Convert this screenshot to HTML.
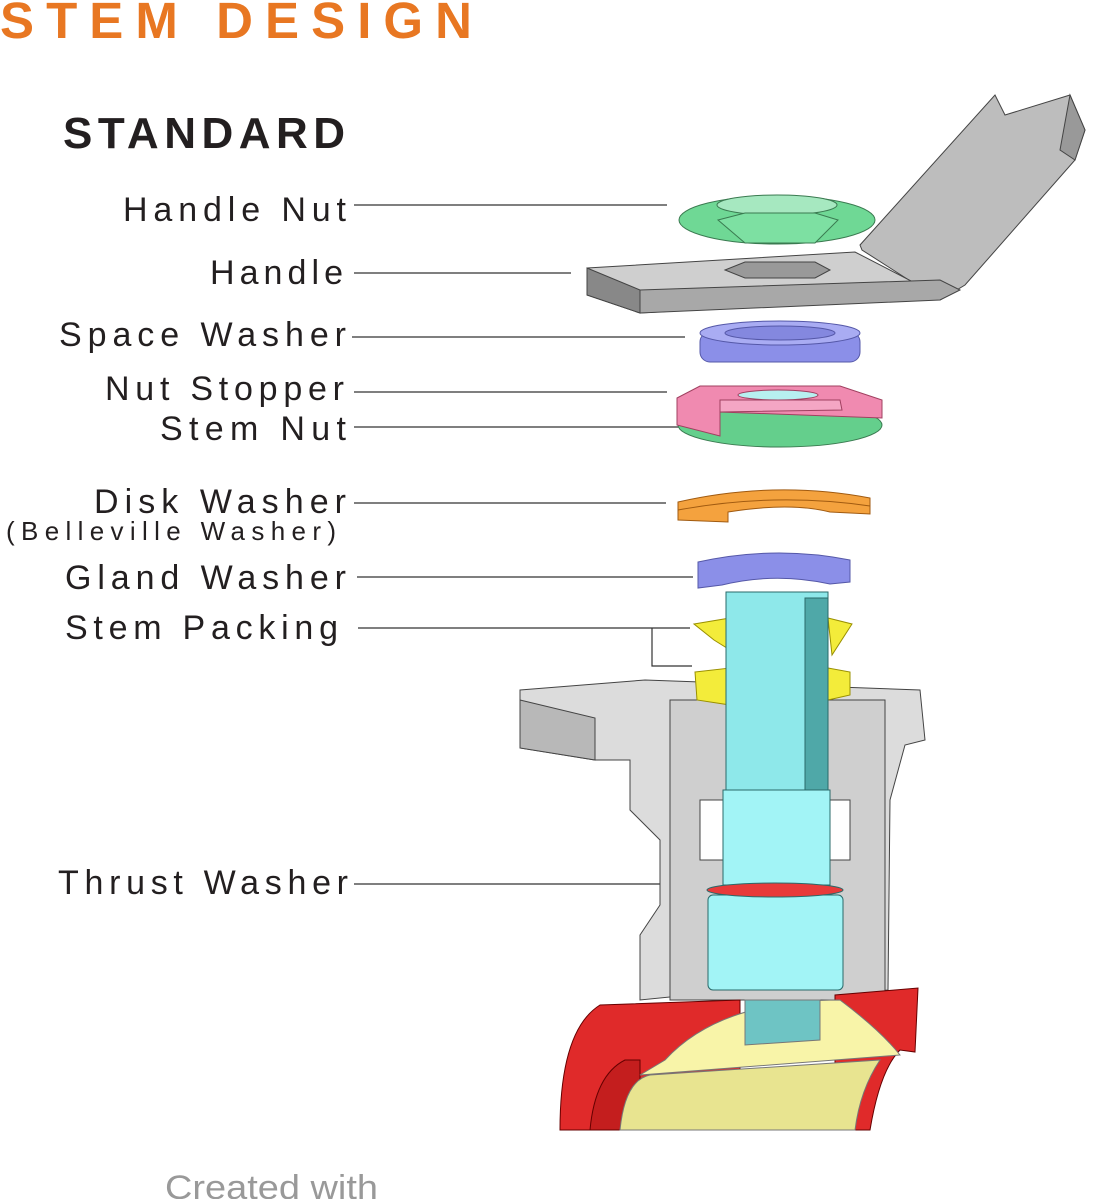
<!DOCTYPE html>
<html><head><meta charset="utf-8"><style>
html,body{margin:0;padding:0;background:#fff;}
svg{display:block;}
text{font-family:"Liberation Sans",Arial,sans-serif;}
</style></head><body>
<svg width="1109" height="1199" viewBox="0 0 1109 1199" xmlns="http://www.w3.org/2000/svg">
<rect width="1109" height="1199" fill="#fff"/>
<text x="0" y="38" font-size="51" font-weight="bold" fill="#e87722" textLength="472" lengthAdjust="spacing">STEM DESIGN</text>
<text x="63" y="148" font-size="44" font-weight="bold" fill="#231f20" textLength="282" lengthAdjust="spacing">STANDARD</text>
<g font-size="34" fill="#231f20">
<text x="123" y="221" textLength="223" lengthAdjust="spacing">Handle Nut</text>
<text x="210" y="284" textLength="133" lengthAdjust="spacing">Handle</text>
<text x="59" y="346" textLength="287" lengthAdjust="spacing">Space Washer</text>
<text x="105" y="400" textLength="239" lengthAdjust="spacing">Nut Stopper</text>
<text x="160" y="440" textLength="186" lengthAdjust="spacing">Stem Nut</text>
<text x="94" y="513" textLength="252" lengthAdjust="spacing">Disk Washer</text>
<text x="6" y="540" font-size="26" textLength="330" lengthAdjust="spacing">(Belleville Washer)</text>
<text x="65" y="589" textLength="281" lengthAdjust="spacing">Gland Washer</text>
<text x="65" y="639" textLength="273" lengthAdjust="spacing">Stem Packing</text>
<text x="58" y="894" textLength="290" lengthAdjust="spacing">Thrust Washer</text>
</g>
<g stroke="#333" stroke-width="1.2" fill="none">
<line x1="354" y1="205" x2="667" y2="205"/>
<line x1="354" y1="273" x2="571" y2="273"/>
<line x1="352" y1="337" x2="685" y2="337"/>
<line x1="354" y1="392" x2="667" y2="392"/>
<line x1="354" y1="427" x2="680" y2="427"/>
<line x1="354" y1="503" x2="666" y2="503"/>
<line x1="357" y1="577" x2="693" y2="577"/>
<polyline points="358,628 690,628"/>
<polyline points="652,628 652,666 692,666"/>
<line x1="354" y1="884" x2="705" y2="884"/>
</g>
<g stroke="#444" stroke-width="1">
<polygon points="860,245 995,95 1005,115 1070,95 1085,130 1075,160 965,285 940,300 862,250" fill="#bdbdbd"/>
<polygon points="1070,95 1085,130 1075,160 1060,150" fill="#999"/>
<polygon points="587,268 855,252 940,296 640,313 587,295" fill="#cfcfcf"/>
<polygon points="587,268 640,290 640,313 587,295" fill="#888"/>
<polygon points="640,290 940,280 960,290 940,300 640,313" fill="#a8a8a8"/>
<polygon points="725,270 745,262 815,262 830,270 815,278 745,278" fill="#999"/>
</g>
<g stroke="#3a7a50" stroke-width="1">
<ellipse cx="777" cy="220" rx="98" ry="24" fill="#6fd895"/>
<ellipse cx="777" cy="205" rx="60" ry="10" fill="#a6e8c0"/>
<polygon points="718,220 745,243 815,243 838,220 815,213 745,213" fill="#7de0a2"/>
</g>
<g stroke="#5558a8" stroke-width="1">
<rect x="700" y="332" width="160" height="30" rx="10" fill="#8b8fe8"/>
<ellipse cx="780" cy="333" rx="80" ry="12" fill="#a9acf3"/>
<ellipse cx="780" cy="333" rx="55" ry="7" fill="#8488df"/>
</g>
<g stroke="#3a7a50" stroke-width="1">
<ellipse cx="780" cy="425" rx="102" ry="22" fill="#64cf8c"/>
</g>
<g stroke="#a04060" stroke-width="1">
<polygon points="677,398 700,386 840,386 882,400 882,418 720,412 720,436 677,425" fill="#f08ab0"/>
<polygon points="720,400 840,400 842,410 720,412" fill="#f4a6c4"/>
<ellipse cx="778" cy="395" rx="40" ry="5" fill="#b7f0f0"/>
</g>
<g stroke="#a05a10" stroke-width="1">
<path d="M678,502 Q775,480 870,498 L870,514 L830,512 Q790,502 728,512 L728,522 L678,520 Z" fill="#f4a23e"/>
<path d="M678,510 Q775,492 870,506" fill="none"/>
</g>
<g stroke="#5558a8" stroke-width="1">
<path d="M698,562 Q775,545 850,560 L850,582 L830,584 Q775,572 722,585 L698,588 Z" fill="#8b8fe8"/>
</g>
<g stroke="#444" stroke-width="1">
<polygon points="520,690 645,680 920,690 925,740 905,745 890,800 888,990 835,995 690,995 640,1000 640,935 660,905 660,840 630,810 630,760 595,760 520,748" fill="#dcdcdc"/>
<polygon points="520,700 595,718 595,760 520,748" fill="#b8b8b8"/>
<rect x="670" y="700" width="215" height="300" fill="#cfcfcf"/>
<rect x="700" y="800" width="150" height="60" fill="#fff"/>
</g>
<g stroke="#9a9000" stroke-width="1">
<polygon points="694,624 730,618 730,650 714,640" fill="#f3ec3a"/>
<polygon points="828,618 852,624 832,655" fill="#f3ec3a"/>
<polygon points="695,672 730,668 730,705 697,700" fill="#f3ec3a"/>
<polygon points="828,668 850,672 850,695 828,700" fill="#f3ec3a"/>
</g>
<g stroke="#2a6a6a" stroke-width="1">
<rect x="726" y="592" width="102" height="198" fill="#8ee8ea"/>
<rect x="805" y="598" width="23" height="192" fill="#4fa8a8"/>
<rect x="723" y="790" width="107" height="95" fill="#a2f4f6"/>
<rect x="708" y="895" width="135" height="95" rx="5" fill="#a2f4f6"/>
<ellipse cx="775" cy="890" rx="68" ry="7" fill="#e83a3a"/>
</g>
<g stroke="#600" stroke-width="1">
<path d="M560,1130 Q560,1030 600,1005 L740,1000 L740,1130 Z" fill="#e02a2a"/>
<path d="M870,1130 Q880,1070 900,1050 L915,1052 L918,988 L835,995 L835,1130 Z" fill="#e02a2a"/>
<path d="M590,1130 Q595,1075 625,1060 L640,1060 L640,1130 Z" fill="#c41e1e"/>
</g>
<g stroke="#777" stroke-width="1">
<path d="M665,1060 Q720,1000 840,1000 Q880,1030 900,1055 L640,1075 Z" fill="#f8f4a8"/>
<path d="M620,1130 Q625,1080 650,1075 L880,1060 Q860,1090 855,1130 Z" fill="#e8e490"/>
<polygon points="745,1000 820,1000 820,1040 745,1045" fill="#6ec4c4"/>
</g>
<text x="165" y="1199" font-size="34" fill="#999" textLength="213" lengthAdjust="spacingAndGlyphs">Created with</text>
</svg>
</body></html>
